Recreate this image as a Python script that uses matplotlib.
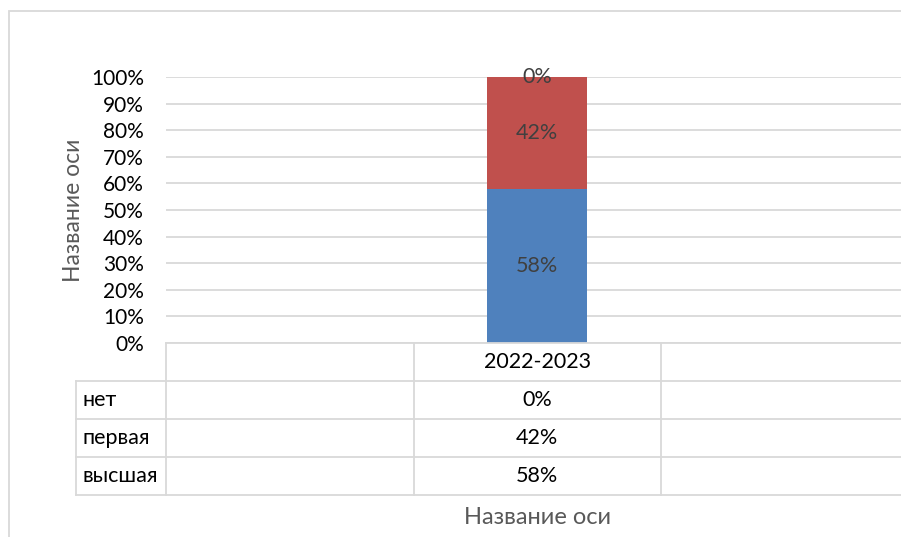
import matplotlib

matplotlib.use("Agg")
import matplotlib.pyplot as plt
from matplotlib.patches import Rectangle
from matplotlib.lines import Line2D
import numpy as np

categories = ["", "2022-2023", ""]
series_names = ["высшая", "первая", "нет"]
vysshaya = [np.nan, 58, np.nan]
pervaya = [np.nan, 42, np.nan]
net = [np.nan, 0, np.nan]
yticks = [0, 10, 20, 30, 40, 50, 60, 70, 80, 90, 100]

BLUE = "#4F81BD"
RED = "#C0504D"
GRID = "#D9D9D9"
LABEL = "#404040"
TITLE = "#595959"

plt.rcParams.update({
    "font.family": ["Lato", "DejaVu Sans"],
    "font.size": 15,
})

W, H = 901, 537
fig = plt.figure(figsize=(W / 100, H / 100), dpi=100)


def fx(px):
    return px / W


def fy(py):
    return 1 - py / H


left, right, top, bottom = 166, 908.5, 77, 343
ax = fig.add_axes([fx(left), fy(bottom), fx(right) - fx(left), fy(top) - fy(bottom)])
ax.set_xlim(-0.5, len(categories) - 0.5)
ax.set_ylim(0, 100)

x = np.arange(len(categories))
series = [vysshaya, pervaya, net]
colors = [BLUE, RED, RED]
bottoms = np.zeros(len(categories))
for vals, col in zip(series, colors):
    v = np.nan_to_num(np.array(vals, dtype=float))
    ax.bar(x, v, bottom=bottoms, width=0.404, color=col, zorder=3)
    for xi, (vi, raw) in enumerate(zip(v, vals)):
        if not np.isnan(raw):
            ax.text(xi, bottoms[xi] + vi / 2, f"{raw:.0f}%", ha="center",
                    va="center", color=LABEL, fontsize=15.5, zorder=4)
    bottoms = bottoms + v

ax.set_yticks(yticks)
ax.set_yticklabels([f"{t}%" for t in yticks])
ax.tick_params(axis="y", length=0, pad=16, labelsize=15, labelcolor="#000000")
ax.set_xticks([])
ax.grid(axis="y", color=GRID, lw=1.3, zorder=0)
for s in ax.spines.values():
    s.set_visible(False)
ax.set_ylabel("Название оси", color=TITLE, fontsize=16.5, labelpad=5)

# outer chart frame
fig.patches.append(Rectangle((fx(9), fy(540)), fx(1000), fy(11) - fy(540),
                             transform=fig.transFigure, fill=False,
                             edgecolor=GRID, lw=1.3))

# data table below the plot area
row_h = 38
header_top = bottom
rows_top = header_top + row_h
label_left = 76
edges = [left + (right - left) * i / len(categories) for i in range(len(categories) + 1)]


def hline(x0, x1, y):
    fig.lines.append(Line2D([fx(x0), fx(x1)], [fy(y), fy(y)],
                            transform=fig.transFigure, color=GRID, lw=1.3))


def vline(xp, y0, y1):
    fig.lines.append(Line2D([fx(xp), fx(xp)], [fy(y0), fy(y1)],
                            transform=fig.transFigure, color=GRID, lw=1.3))


hline(left, right, header_top)
for i in range(len(series_names) + 1):
    hline(label_left, right, rows_top + i * row_h)
vline(label_left, rows_top, rows_top + 3 * row_h)
for e in edges:
    vline(e, header_top, rows_top + 3 * row_h)

for i, c in enumerate(categories):
    cx = (edges[i] + edges[i + 1]) / 2
    fig.text(fx(cx), fy(header_top + row_h / 2), c, ha="center", va="center",
             fontsize=15.5, color="#000000")

table_rows = list(zip(series_names, series))[::-1]
for r, (name, vals) in enumerate(table_rows):
    cy = rows_top + r * row_h + row_h / 2
    fig.text(fx(label_left + 6), fy(cy), name, ha="left", va="center",
             fontsize=15.5, color="#000000")
    for i, v in enumerate(vals):
        if not np.isnan(v):
            cx = (edges[i] + edges[i + 1]) / 2
            fig.text(fx(cx), fy(cy), f"{v:.0f}%", ha="center", va="center",
                     fontsize=15.5, color="#000000")

fig.text(fx(538), fy(518), "Название оси", ha="center", va="center",
         fontsize=17, color=TITLE)

fig.savefig("out.png", dpi=100)
